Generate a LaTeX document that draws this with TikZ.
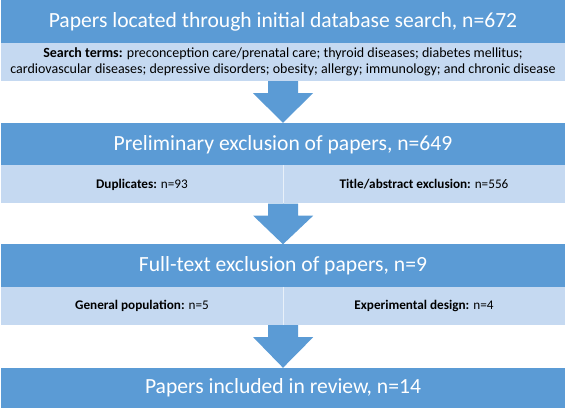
\documentclass[tikz,border=0pt]{standalone}
\usepackage{fontspec}
\setmainfont{Carlito}
\usetikzlibrary{calc}
\definecolor{stepblue}{RGB}{91,155,213}
\definecolor{bandblue}{RGB}{197,217,241}
\tikzset{
	headbox/.style={fill=stepblue, text=white, minimum width=564pt, minimum height=43pt, inner sep=0pt, font=\fontsize{21.6}{25}\selectfont},
	band/.style={fill=bandblue, text=black, minimum width=564pt, minimum height=38pt, inner sep=0pt, align=center, font=\fontsize{14}{16}\selectfont},
	halfband/.style={band, minimum width=282pt, font=\fontsize{13.2}{16}\selectfont},
}
% block arrow from a point on the band above to the top of the next head box
\def\blockarrow(#1)(#2){\fill[stepblue] ($(#1)+(-15,0)$) -- ($(#1)+(-15,-12)$) -- ($(#1)+(-30,-12)$) -- (#2) -- ($(#1)+(30,-12)$) -- ($(#1)+(15,-12)$) -- ($(#1)+(15,0)$) -- cycle;}

\begin{document}
\begin{tikzpicture}[x=1pt, y=1pt]
		%%%%% START %%%%%
		\useasboundingbox (0, 0) rectangle (567, 411);
		
		\node[headbox] (located) at (283, 389.5) {Papers located through initial database search, n=672};
		\node[band] (terms) at (283, 349) {\textbf{Search terms:} preconception care/prenatal care; thyroid diseases; diabetes mellitus;\\cardiovascular diseases; depressive disorders; obesity; allergy; immunology; and chronic disease};
		
		\node[headbox] (prelim) at (283, 266.5) {Preliminary exclusion of papers, n=649};
		\node[halfband] (dupl) at (142, 226.5) {\textbf{Duplicates:} n=93};
		\node[halfband] (title) at (424, 226.5) {\textbf{Title/abstract exclusion:} n=556};
		
		\node[headbox] (fulltext) at (283, 145) {Full-text exclusion of papers, n=9};
		\node[halfband] (general) at (142, 105) {\textbf{General population:} n=5};
		\node[halfband] (design) at (424, 105) {\textbf{Experimental design:} n=4};
		
		\node[headbox, minimum height=40pt] (included) at (283, 23) {Papers included in review, n=14};
		
		\draw[white!60!bandblue, line width=0.5pt] (dupl.north east) -- (dupl.south east);
		\draw[white!60!bandblue, line width=0.5pt] (general.north east) -- (general.south east);
		
		\blockarrow(terms.south)(prelim.north)
		\blockarrow(dupl.south east)(fulltext.north)
		\blockarrow(general.south east)(included.north)
		
		%%%%% END %%%%%
	\end{tikzpicture}
\end{document}
